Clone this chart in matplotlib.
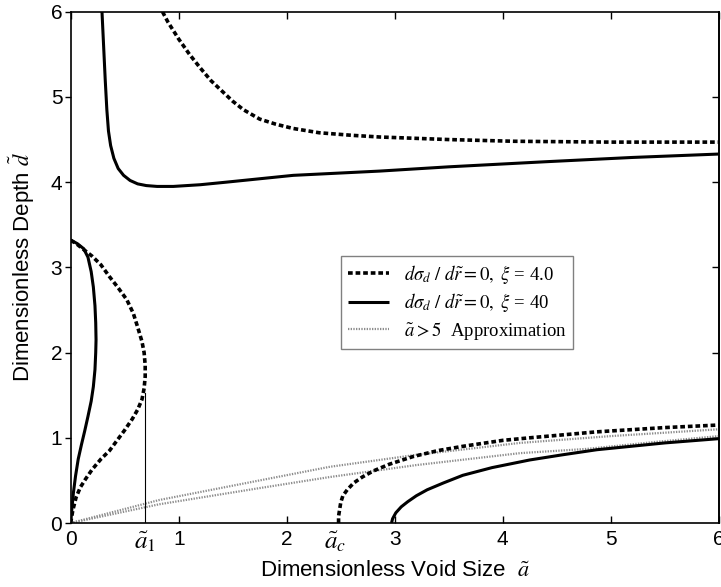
import matplotlib
matplotlib.use("Agg")
import matplotlib.pyplot as plt
from matplotlib.lines import Line2D

plt.rcParams["mathtext.fontset"] = "stix"
plt.rcParams["font.family"] = ["Liberation Sans Narrow", "Liberation Sans", "DejaVu Sans"]

# upper branch, xi = 4.0 (dashed)
up4_x = [0.85, 0.9, 1.0, 1.1, 1.2, 1.3, 1.4, 1.5, 1.6, 1.75, 1.9, 2.06, 2.3, 2.6,
         2.86, 3.5, 4.1, 5.0, 6.0]
up4_y = [6.0, 5.88, 5.68, 5.5, 5.34, 5.19, 5.07, 4.95, 4.85, 4.74, 4.68, 4.63, 4.58, 4.55,
         4.53, 4.5, 4.48, 4.47, 4.47]

# upper branch, xi = 40 (solid)
up40_x = [0.29, 0.305, 0.32, 0.335, 0.35, 0.37, 0.4, 0.44, 0.49, 0.55, 0.62, 0.7, 0.8,
          0.95, 1.2, 1.44, 2.06, 2.86, 3.5, 4.4, 5.2, 6.0]
up40_y = [6.0, 5.6, 5.2, 4.85, 4.6, 4.43, 4.28, 4.16, 4.08, 4.02, 3.98, 3.96, 3.95,
          3.95, 3.97, 4.0, 4.08, 4.13, 4.18, 4.24, 4.29, 4.33]

# small-void loops near the axis
loop40_x = [0.0, 0.06, 0.12, 0.16, 0.19, 0.21, 0.225, 0.232, 0.235, 0.232, 0.225, 0.21,
            0.19, 0.16, 0.13, 0.1, 0.07, 0.045, 0.025, 0.01, 0.0]
loop40_y = [3.32, 3.28, 3.22, 3.12, 2.95, 2.77, 2.55, 2.35, 2.15, 2.0, 1.8, 1.6,
            1.43, 1.25, 1.08, 0.92, 0.75, 0.55, 0.35, 0.15, 0.0]
loop4_x = [0.0, 0.06, 0.13, 0.2, 0.28, 0.36, 0.44, 0.52, 0.58, 0.62, 0.66, 0.68, 0.69,
           0.69, 0.68, 0.66, 0.62, 0.57, 0.5, 0.43, 0.36, 0.28, 0.2, 0.14, 0.09, 0.05,
           0.02, 0.0]
loop4_y = [3.32, 3.27, 3.2, 3.13, 3.03, 2.89, 2.76, 2.62, 2.46, 2.3, 2.13, 2.0, 1.85,
           1.72, 1.58, 1.45, 1.33, 1.22, 1.09, 0.97, 0.85, 0.75, 0.63, 0.52, 0.42, 0.3,
           0.15, 0.0]

# lower branches, starting at a_c
low4_x = [2.48, 2.48, 2.49, 2.5, 2.52, 2.56, 2.62, 2.7, 2.8, 2.95, 3.17, 3.4, 3.63, 4.0,
          4.25, 4.87, 5.5, 6.0]
low4_y = [0.0, 0.08, 0.16, 0.24, 0.32, 0.39, 0.47, 0.54, 0.61, 0.69, 0.78, 0.85, 0.9, 0.97,
          1.0, 1.07, 1.12, 1.15]
low40_x = [2.97, 2.98, 3.01, 3.06, 3.12, 3.2, 3.3, 3.45, 3.63, 3.9, 4.25, 4.55, 4.87, 5.5, 6.0]
low40_y = [0.0, 0.05, 0.12, 0.19, 0.25, 0.32, 0.39, 0.47, 0.56, 0.65, 0.74, 0.8, 0.86, 0.94, 0.99]

# a > 5 approximation
appr4_x = [0.0, 0.82, 1.75, 2.4, 3.2, 4.16, 5.0, 6.0]
appr4_y = [0.0, 0.27, 0.5, 0.66, 0.8, 0.94, 1.02, 1.1]
appr40_x = [0.0, 0.82, 1.75, 2.4, 3.2, 4.16, 4.78, 5.4, 6.0]
appr40_y = [0.0, 0.22, 0.41, 0.54, 0.68, 0.82, 0.87, 0.95, 1.02]

a1 = 0.69
a1_top = 1.52
ac = 2.45

fig = plt.figure(figsize=(7.21, 5.87), dpi=100)
ax = fig.add_axes([0.098, 0.109, 0.899, 0.871])

dash_kw = dict(color="black", lw=2.6, linestyle=(0, (1.3, 0.8)))
solid_kw = dict(color="black", lw=2.2, solid_capstyle="butt")
dot_kw = dict(color="0.55", lw=1.6, linestyle=(0, (0.6, 0.6)))

ax.plot(appr4_x, appr4_y, **dot_kw)
ax.plot(appr40_x, appr40_y, **dot_kw)
ax.plot(up4_x, up4_y, **dash_kw)
ax.plot(loop4_x, loop4_y, **dash_kw)
ax.plot(low4_x, low4_y, **dash_kw)
ax.plot(up40_x, up40_y, **solid_kw)
ax.plot(loop40_x, loop40_y, **solid_kw)
ax.plot(low40_x, low40_y, **solid_kw)
ax.plot([a1, a1], [0, a1_top], color="black", lw=0.8)

ax.set_xlim(0, 6)
ax.set_ylim(0, 6)
ax.set_xticks([0, 1, 2, 3, 4, 5, 6])
ax.set_yticks([0, 1, 2, 3, 4, 5, 6])
ax.tick_params(axis="x", direction="in", top=True, length=5, width=1, labelsize=15, pad=5)
ax.tick_params(axis="y", direction="out", length=4, width=1, labelsize=15, pad=2)
for s in ax.spines.values():
    s.set_linewidth(1.2)
# right side ticks point inward
ax2 = ax.secondary_yaxis("right")
ax2.set_yticks([1, 2, 3, 4, 5])
ax2.tick_params(direction="in", length=5, width=1, labelright=False)
ax2.spines["right"].set_linewidth(1.2)

ax.text(a1, -0.012, r"$\tilde{a}_1$", transform=ax.get_xaxis_transform(),
        ha="center", va="top", fontsize=18)
ax.text(ac, -0.012, r"$\tilde{a}_c$", transform=ax.get_xaxis_transform(),
        ha="center", va="top", fontsize=18)

ax.set_xlabel(r"Dimensionless Void Size  $\tilde{a}$", fontsize=16, labelpad=8)
ax.set_ylabel(r"Dimensionless Depth $\tilde{d}$", fontsize=16, labelpad=10)

handles = [
    Line2D([], [], **dash_kw),
    Line2D([], [], **solid_kw),
    Line2D([], [], **dot_kw),
]
labels = [
    r"$d\sigma_d\ /\ d\tilde{r}=0,\ \xi$ = 4.0",
    r"$d\sigma_d\ /\ d\tilde{r}=0,\ \xi$ = 40",
    r"$\tilde{a}>5$  Approximation",
]
leg = ax.legend(handles, labels, loc="upper left", bbox_to_anchor=(0.417, 0.522),
                fancybox=False, edgecolor="0.5", framealpha=1,
                prop={"family": "Liberation Serif", "size": 13.5},
                handlelength=2.2, borderpad=0.35, labelspacing=0.3, borderaxespad=0)
leg.get_frame().set_linewidth(1.0)

fig.savefig("out.png", dpi=100)
